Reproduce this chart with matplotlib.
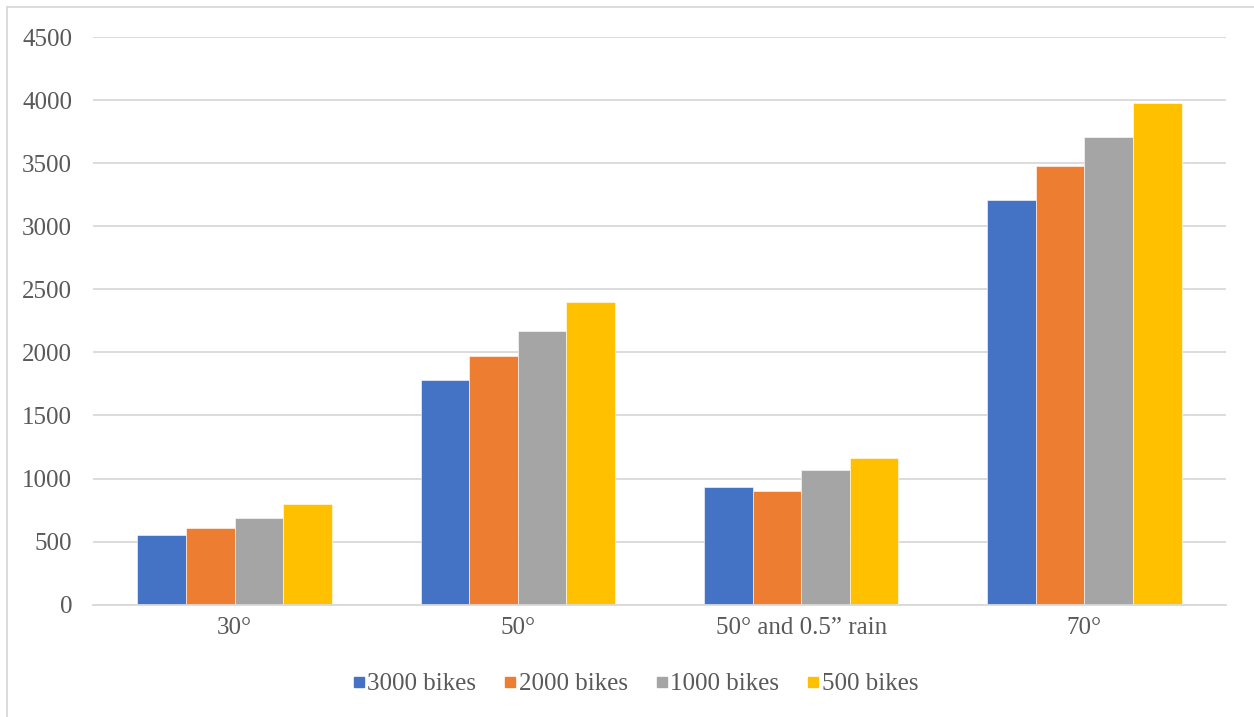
import matplotlib
matplotlib.use("Agg")
import matplotlib.pyplot as plt
from matplotlib.lines import Line2D
import numpy as np

categories = ["30°", "50°", "50° and 0.5\u201d rain", "70°"]
series_names = ["3000 bikes", "2000 bikes", "1000 bikes", "500 bikes"]
bikes_3000 = [550, 1780, 935, 3210]
bikes_2000 = [610, 1975, 900, 3475]
bikes_1000 = [685, 2170, 1070, 3710]
bikes_500 = [800, 2400, 1160, 3980]
colors = ["#4472C4", "#ED7D31", "#A5A5A5", "#FFC000"]
yticks = [0, 500, 1000, 1500, 2000, 2500, 3000, 3500, 4000, 4500]

plt.rcParams["font.family"] = ["Liberation Serif", "DejaVu Serif"]
text_color = "#595959"
grid_color = "#D9D9D9"

W, H = 1254, 717
fig = plt.figure(figsize=(W / 100, H / 100), dpi=100)
ax = fig.add_axes([93 / W, 1 - 604.7 / H, (1226 - 93) / W, (604.7 - 37) / H])

x = np.arange(len(categories))
bw = 0.1715
all_series = [bikes_3000, bikes_2000, bikes_1000, bikes_500]
for i, (vals, c, name) in enumerate(zip(all_series, colors, series_names)):
    ax.bar(x + (i - 1.5) * bw, vals, width=bw, color=c, label=name,
           edgecolor="white", linewidth=0.4, zorder=3)

ax.set_xlim(-0.5, len(categories) - 0.5)
ax.set_ylim(0, 4500)
ax.set_yticks(yticks)
ax.set_yticklabels([str(v) for v in yticks])
ax.set_xticks(x)
ax.set_xticklabels(categories)
ax.tick_params(axis="both", length=0, labelsize=18, colors=text_color)
ax.tick_params(axis="y", pad=15)
ax.tick_params(axis="x", pad=9)
ax.grid(axis="y", color=grid_color, linewidth=1.3, zorder=0)
for s in ["top", "right", "left"]:
    ax.spines[s].set_visible(False)
ax.spines["bottom"].set_color(grid_color)
ax.spines["bottom"].set_linewidth(1.3)
ax.spines["bottom"].set_zorder(4)

handles = [Line2D([0], [0], marker="s", linestyle="none", markersize=7.5,
                  markerfacecolor=c, markeredgecolor=c) for c in colors]
fig.legend(handles, series_names, loc="center", bbox_to_anchor=(634 / W, 1 - 684 / H),
           ncol=4, frameon=False, fontsize=18, labelcolor=text_color,
           handletextpad=0.0, columnspacing=1.0, handlelength=0.7)

# chart frame
fig.add_artist(Line2D([7 / W, 7 / W], [0, 1 - 7 / H], color="#D9D9D9", linewidth=1.3))
fig.add_artist(Line2D([7 / W, 1], [1 - 7 / H, 1 - 7 / H], color="#D9D9D9", linewidth=1.3))

fig.savefig("out.png", dpi=100)
